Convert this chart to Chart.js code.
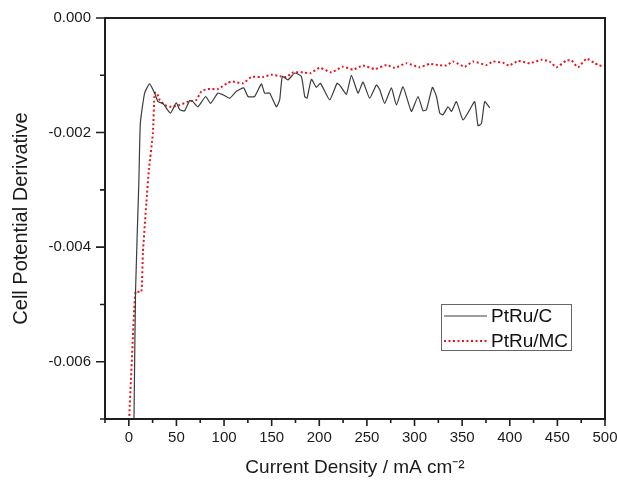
<!DOCTYPE html>
<html>
<head>
<meta charset="utf-8">
<title>Cell Potential Derivative</title>
<script src="https://cdn.jsdelivr.net/npm/chart.js@4.4.1/dist/chart.umd.min.js"></script>
<style>
    html, body { margin: 0; padding: 0; background: #fff; }
    #box { width: 617px; height: 480px; }
</style>
</head>
<body>
<div id="box"><canvas id="chart" width="617" height="480"></canvas></div>
<script>
const seriesNames = ["PtRu/C", "PtRu/MC"];

// PtRu/C (current density, mA cm-2)
const ptruCX = [5.4, 7.1, 10.6, 12.1, 16.6, 21.8, 27.1, 30.6, 35.8, 43.6, 49.9, 53.4, 58.6, 63.9, 67.3,
    72.6, 80.7, 85.9, 93.6, 98.8, 105.9, 112.9, 120.6, 125.1, 132.1, 139.2, 142.6, 147.9, 154.9, 158.4,
    161.2, 167.1, 174.2, 181.2, 184.7, 187.1, 191.7, 197.0, 201.2, 210.9, 218.6, 221.4, 228.5, 233.7,
    240.7, 245.9, 252.9, 260.0, 263.4, 268.7, 275.7, 281.0, 287.9, 296.7, 303.7, 308.9, 312.5, 318.8,
    323.0, 326.5, 329.9, 335.2, 338.8, 344.0, 350.9, 358.0, 363.2, 366.7, 370.3, 373.7, 379.0];
const ptruCY = [-0.00705, -0.00475, -0.00283, -0.00184, -0.00131, -0.00115, -0.00131, -0.00146, -0.00149,
    -0.00166, -0.00148, -0.00160, -0.00162, -0.00144, -0.00146, -0.00155, -0.00137, -0.00149, -0.00131,
    -0.00134, -0.00140, -0.00128, -0.00122, -0.00137, -0.00137, -0.00115, -0.00131, -0.00131, -0.00155,
    -0.00143, -0.00102, -0.00108, -0.00096, -0.00102, -0.00137, -0.00140, -0.00107, -0.00121, -0.00114,
    -0.00143, -0.00114, -0.00117, -0.00133, -0.00100, -0.00131, -0.00112, -0.00140, -0.00117, -0.00125,
    -0.00149, -0.00122, -0.00152, -0.00120, -0.00163, -0.00137, -0.00162, -0.00160, -0.00121, -0.00137,
    -0.00166, -0.00169, -0.00155, -0.00163, -0.00146, -0.00178, -0.00160, -0.00146, -0.00188, -0.00184,
    -0.00146, -0.00157];

// PtRu/MC
const ptruMCX = [0.1, 4.3, 7.1, 13.1, 14.8, 18.4, 21.1, 25.3, 27.1, 29.5, 32.4, 37.6, 44.6, 53.4, 62.1,
    70.9, 76.2, 83.1, 93.6, 104.1, 109.3, 119.9, 128.7, 140.9, 149.7, 160.2, 165.4, 172.4, 184.7, 189.9,
    200.4, 212.7, 224.9, 235.4, 245.9, 258.2, 270.5, 279.2, 291.5, 305.5, 316.0, 324.7, 333.5, 340.4,
    352.7, 361.4, 375.5, 382.5, 393.0, 399.3, 408.7, 421.0, 433.3, 442.0, 449.0, 459.6, 464.8, 471.7,
    480.6, 489.3, 493.8, 500.0];
const ptruMCY = [-0.00710, -0.00557, -0.00478, -0.00478, -0.00410, -0.00323, -0.00265, -0.00201, -0.00131,
    -0.00131, -0.00143, -0.00152, -0.00155, -0.00152, -0.00146, -0.00143, -0.00128, -0.00124, -0.00124,
    -0.00113, -0.00111, -0.00114, -0.00103, -0.00103, -0.00099, -0.00102, -0.00103, -0.00095, -0.00095,
    -0.00097, -0.00087, -0.00095, -0.00085, -0.00090, -0.00083, -0.00089, -0.00082, -0.00087, -0.00079,
    -0.00086, -0.00080, -0.00082, -0.00083, -0.00076, -0.00085, -0.00076, -0.00082, -0.00076, -0.00078,
    -0.00083, -0.00075, -0.00079, -0.00073, -0.00076, -0.00086, -0.00074, -0.00074, -0.00086, -0.00071,
    -0.00079, -0.00083, -0.00083];

const xTickLabels = [0, 50, 100, 150, 200, 250, 300, 350, 400, 450, 500];
const yTickLabels = [0, -0.002, -0.004, -0.006];

const xTitle = "Current Density / mA cm\u207B\u00B2";
const yTitle = "Cell Potential Derivative";

function toPoints(xs, ys) {
    return xs.map((x, i) => ({ x: x, y: ys[i] }));
}

// frame, major/minor ticks and the boxed legend
const framePlugin = {
    id: "frameTicks",
    afterDraw(chart) {
        const ctx = chart.ctx;
        const a = chart.chartArea;
        const xs = chart.scales.x;
        const ys = chart.scales.y;
        ctx.save();
        ctx.strokeStyle = "#1e1e1e";
        ctx.lineWidth = 2;
        ctx.strokeRect(a.left, a.top, a.right - a.left, a.bottom - a.top);

        ctx.lineWidth = 1.6;
        ctx.beginPath();
        for (let v = -25; v <= 500; v += 25) {
            const px = xs.getPixelForValue(v);
            const len = v % 50 === 0 ? 7 : 4;
            ctx.moveTo(px, a.bottom);
            ctx.lineTo(px, a.bottom + len);
        }
        for (let i = -7; i <= 0; i++) {
            const py = ys.getPixelForValue(i / 1000);
            const len = i % 2 === 0 ? 9 : 5;
            ctx.moveTo(a.left, py);
            ctx.lineTo(a.left - len, py);
        }
        ctx.stroke();

        // legend
        const bx = a.right - 164, by = a.top + 286, bw = 130, bh = 46;
        ctx.fillStyle = "#fff";
        ctx.fillRect(bx, by, bw, bh);
        ctx.strokeStyle = "#666";
        ctx.lineWidth = 1;
        ctx.strokeRect(bx + 0.5, by + 0.5, bw, bh);
        ctx.font = "19px 'Liberation Sans', Arial, sans-serif";
        ctx.textBaseline = "middle";
        ctx.textAlign = "left";
        chart.data.datasets.forEach((ds, i) => {
            const ly = by + 12 + i * 25;
            ctx.strokeStyle = ds.borderColor;
            ctx.lineWidth = ds.borderWidth;
            ctx.setLineDash(ds.borderDash || []);
            ctx.beginPath();
            ctx.moveTo(bx + 3, ly);
            ctx.lineTo(bx + 46, ly);
            ctx.stroke();
            ctx.setLineDash([]);
            ctx.fillStyle = "#111";
            ctx.fillText(ds.label, bx + 50, ly + 1);
        });
        ctx.restore();
    }
};

Chart.defaults.font.family = "'Liberation Sans', Arial, sans-serif";
Chart.defaults.color = "#1a1a1a";

new Chart(document.getElementById("chart"), {
    type: "line",
    data: {
        datasets: [
            {
                label: seriesNames[0],
                data: toPoints(ptruCX, ptruCY),
                borderColor: "#3c3c3c",
                borderWidth: 1.2,
                pointRadius: 0,
                tension: 0.15,
                fill: false
            },
            {
                label: seriesNames[1],
                data: toPoints(ptruMCX, ptruMCY),
                borderColor: "#e8141c",
                borderWidth: 2,
                borderDash: [2, 2.5],
                pointRadius: 0,
                tension: 0.15,
                fill: false
            }
        ]
    },
    options: {
        responsive: false,
        animation: false,
        devicePixelRatio: 1,
        layout: { padding: { top: 18, right: 12, left: 0, bottom: 0 } },
        plugins: {
            legend: { display: false },
            tooltip: { enabled: false }
        },
        scales: {
            x: {
                type: "linear",
                min: -25,
                max: 500,
                grid: { display: false, drawTicks: false },
                border: { display: false },
                ticks: {
                    autoSkip: false,
                    maxRotation: 0,
                    padding: 10,
                    font: { size: 15 },
                    callback: (v) => String(v)
                },
                afterBuildTicks: (scale) => {
                    scale.ticks = xTickLabels.map(v => ({ value: v }));
                },
                title: {
                    display: true,
                    text: xTitle,
                    font: { size: 19 },
                    padding: { top: 0, bottom: 1 }
                },
                afterFit: (scale) => {
                    scale.height = 61;
                    scale.paddingLeft = 0;
                    scale.paddingRight = 0;
                }
            },
            y: {
                min: -0.007,
                max: 0,
                grid: { display: false, drawTicks: false },
                border: { display: false },
                ticks: {
                    autoSkip: false,
                    padding: 14,
                    font: { size: 15 },
                    callback: (v) => Math.abs(v) < 1e-9 ? "0.000" : v.toFixed(3)
                },
                afterBuildTicks: (scale) => {
                    scale.ticks = yTickLabels.map(v => ({ value: v }));
                },
                title: {
                    display: true,
                    text: yTitle,
                    font: { size: 20 },
                    padding: { top: 9, bottom: 0 }
                },
                afterFit: (scale) => {
                    scale.width = 105;
                    scale.paddingTop = 0;
                    scale.paddingBottom = 0;
                }
            }
        }
    },
    plugins: [framePlugin]
});
</script>
</body>
</html>
